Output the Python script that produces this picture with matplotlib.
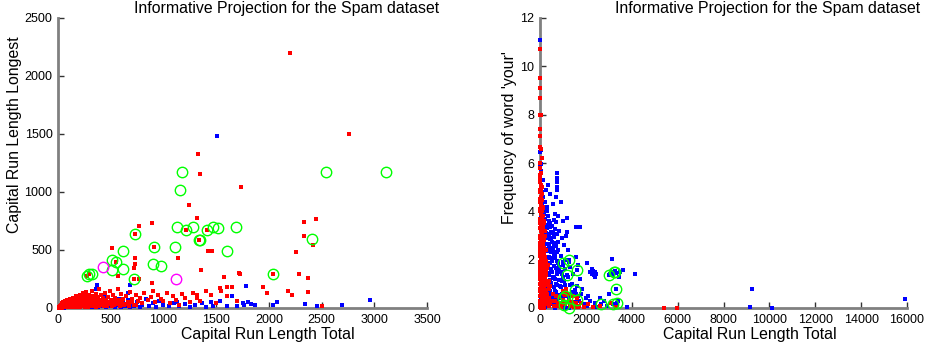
import matplotlib
matplotlib.use("Agg")
import matplotlib.pyplot as plt

plt.rcParams["font.family"] = ["Liberation Sans", "DejaVu Sans"]

TITLE = "Informative Projection for the Spam dataset"

# ---------------- left panel: run length total vs run length longest ----------------
left_red_x = [
    10, 15, 20, 25, 30, 35, 40, 45, 50, 55, 60, 65, 70, 75, 80, 85, 90, 95, 100, 105,
    110, 115, 120, 125, 130, 135, 140, 145, 150, 155, 160, 165, 170, 175, 180, 185, 190, 195, 200, 205,
    210, 215, 220, 225, 230, 235, 240, 245, 250, 255, 260, 265, 270, 275, 280, 285, 290, 295, 300, 305,
    310, 320, 325, 330, 335, 340, 350, 355, 360, 365, 370, 380, 385, 390, 400, 405, 410, 420, 430, 440,
    445, 455, 460, 470, 480, 490, 500, 510, 520, 530, 540, 550, 565, 575, 590, 600, 615, 630, 645, 660,
    680, 700, 720, 740, 760, 780, 800, 820, 850, 880, 900, 920, 950, 980, 1000, 1030, 1060, 1090, 1120, 1150,
    1180, 1200, 1250, 1280, 1320, 1350, 1400, 1450, 1500, 1550, 1600, 1650, 1700,
    5, 12, 18, 22, 28, 33, 38, 42, 48, 52, 58, 62, 68, 72, 78, 82, 88, 92, 98, 102,
    108, 112, 118, 122, 128, 132, 138, 142, 148, 152, 158, 162, 168, 172, 178, 182, 188, 192, 198, 202,
    208, 212, 218, 222, 228, 232, 238, 242, 248, 252, 258, 262, 268, 272, 278, 282, 288, 292, 298, 302,
    308, 312, 318, 322, 328, 332, 338, 342, 348, 352, 358, 362, 368, 375, 385, 395, 405, 415, 425, 435,
    450, 465, 475, 495, 515, 535, 555, 585, 610, 640, 670, 700, 740,
    2205, 2759, 1331, 1348, 1732, 1241, 1314, 893, 766, 2331, 2448, 2334, 2423, 513, 1425, 1457, 1140, 2255,
    735, 1355, 2283, 1720, 2369, 2372, 1571, 570, 887, 728, 725, 770, 2185, 2223, 1948, 1986, 1314, 1600,
    1540, 2502, 1727,
    1210, 1409, 1336, 731, 915, 551, 276, 295, 719, 2043,
]
left_red_y = [
    5, 20, 10, 30, 15, 40, 8, 25, 50, 12, 35, 20, 60, 5, 45, 28, 70, 15, 40, 55,
    10, 80, 30, 65, 20, 45, 90, 8, 55, 35, 75, 15, 100, 50, 25, 85, 60, 10, 40, 110,
    70, 30, 55, 90, 15, 130, 45, 75, 20, 100, 60, 35, 140, 80, 50, 10, 115, 65, 30, 90,
    45, 150, 70, 20, 105, 55, 35, 85, 125, 10, 60, 95, 40, 160, 70, 25, 110, 50, 85, 15,
    130, 60, 30, 95, 45, 145, 70, 20, 110, 55, 85, 35, 165, 65, 40, 120, 80, 25, 100, 55,
    140, 75, 30, 110, 60, 90, 40, 130, 70, 95, 150, 50, 110, 80, 60, 130, 40, 100, 70, 30,
    120, 85, 50, 130, 90, 60, 150, 110, 40, 150, 100, 180, 60,
    2, 8, 3, 15, 5, 22, 10, 3, 18, 30, 6, 24, 12, 40, 18, 8, 32, 50, 25, 12,
    35, 20, 48, 6, 38, 58, 22, 12, 40, 68, 18, 50, 30, 10, 62, 40, 20, 75, 48, 28,
    8, 52, 85, 38, 18, 62, 30, 95, 50, 12, 70, 40, 22, 60, 35, 88, 25, 50, 70, 15,
    40, 60, 25, 45, 80, 40, 15, 70, 50, 25, 45, 65, 30, 50, 20, 45, 60, 30, 40, 65,
    45, 20, 55, 35, 45, 25, 50, 20, 45, 35, 20, 50, 25,
    2200, 1500, 1325, 1155, 1040, 890, 775, 737, 708, 740, 766, 618, 543, 514, 494, 494, 428, 485,
    428, 324, 289, 298, 260, 139, 266, 275, 217, 381, 347, 246, 150, 116, 179, 133, 116, 179,
    175, 20, 293,
    671, 671, 584, 636, 526, 399, 275, 289, 254, 289,
]

left_blue_x = [
    1506, 1783, 1653, 1758, 1806, 1869, 2343, 2454, 2692, 2955, 2074, 2043, 1472, 1362, 1536, 374, 364, 681, 665,
    20, 40, 60, 80, 100, 120, 140, 160, 180, 200, 220, 240, 260, 280, 300, 320, 340, 360, 380, 400,
    420, 440, 460, 480, 500, 520, 540, 560, 580, 600, 620, 640, 660, 680, 700, 720, 750, 780, 800, 830,
    860, 900, 930, 960, 1000, 1050, 1100, 1130, 1150, 1200, 1250, 1300, 1400, 1450, 1600, 1700, 1760, 1830,
]
left_blue_y = [
    1485, 188, 101, 43, 49, 29, 38, 20, 29, 69, 49, 29, 20, 43, 64, 202, 165, 202, 130,
    5, 12, 3, 20, 8, 30, 5, 15, 40, 10, 25, 60, 5, 20, 45, 12, 80, 30, 8, 55,
    20, 100, 10, 35, 15, 60, 5, 30, 80, 12, 45, 20, 70, 8, 35, 15, 50, 10, 30, 80,
    20, 45, 10, 60, 25, 15, 40, 50, 20, 35, 10, 30, 10, 55, 15, 20, 25, 35,
]

left_green_x = [1175, 2543, 3113, 1156, 1124, 1210, 1283, 1409, 1472, 1514, 1685, 1336, 1345, 2413, 731,
                915, 1108, 1603, 621, 516, 551, 510, 618, 903, 975, 276, 295, 326, 719, 2043]
left_green_y = [1170, 1170, 1170, 1017, 694, 671, 694, 671, 699, 688, 694, 584, 590, 598, 636,
                526, 526, 491, 488, 416, 399, 329, 338, 376, 361, 275, 289, 295, 254, 289]

left_magenta_x = [428, 1115]
left_magenta_y = [350, 249]

# ---------------- right panel: run length total vs frequency of 'your' ----------------
right_red_x = [
    0, 0, 0, 0, 0, 30, 0, 0, 0, 40, 70, 0, 20,
    5, 10, 30, 15, 50, 8, 25, 60, 12, 40, 80, 5, 20, 55, 100, 10, 35, 70, 120, 3, 25, 50,
    90, 15, 140, 35, 65, 5, 110, 20, 45, 160, 80, 10, 30, 130, 55, 200, 5, 95, 25, 170,
    45, 70, 15, 120, 250, 35, 60, 5, 150, 85, 20, 210, 40, 110, 10, 300, 65, 30, 180, 90,
    5, 140, 50, 260, 20, 100, 350, 70, 10, 200, 40, 130, 400, 5, 80, 25, 160,
    500, 600, 700, 800, 900, 1000, 1100, 1200, 1300, 1400, 1500, 1600, 1700, 1800, 1900, 2100,
    2300, 2600, 3100, 3300, 5425, 5964,
    0, 0, 0, 0, 0, 0, 0, 0, 0, 0, 0, 0, 0, 0, 45, 75, 30, 95, 65, 150,
    85, 110, 180, 75, 230, 100, 280, 190, 240, 320, 400, 450, 380, 330, 270, 220, 420, 550, 650, 750,
    850, 950, 1050, 1150, 1250, 1350, 1450, 1550, 1650, 1100, 1000,
    60, 120, 180, 240, 300, 90, 150, 210, 270, 330, 60, 120, 180, 240, 30, 90, 150, 210, 45, 105,
    165, 225, 285, 345, 75, 135, 195, 255, 315, 375, 40, 100, 160, 220, 280, 60, 120, 180, 20, 80,
    140, 200, 260, 50, 110, 170, 230, 70, 130, 190, 90, 150, 30, 100, 60, 40, 80, 120, 20, 50,
]
right_red_y = [
    10.7, 9.5, 9.1, 8.7, 8.0, 8.0, 7.4, 7.1, 6.67, 6.6, 6.2, 6.0, 5.8,
    5.5, 5.2, 5.0, 4.8, 4.6, 4.5, 4.3, 4.2, 4.0, 3.9, 3.8, 3.7, 3.6, 3.5, 3.4, 3.3, 3.2, 3.1, 3.0, 2.95, 2.9, 2.8,
    2.75, 2.7, 2.6, 2.55, 2.5, 2.45, 2.4, 2.35, 2.3, 2.25, 2.2, 2.15, 2.1, 2.05, 2.0, 1.95, 1.9, 1.85, 1.8, 1.75,
    1.7, 1.65, 1.6, 1.55, 1.5, 1.45, 1.4, 1.35, 1.3, 1.25, 1.2, 1.15, 1.1, 1.05, 1.0, 0.95, 0.9, 0.85, 0.8, 0.75,
    0.7, 0.65, 0.6, 0.55, 0.5, 0.45, 0.4, 0.35, 0.3, 0.25, 0.2, 0.15, 0.1, 0.05, 0.02, 0.0, 0.0,
    0.3, 0.1, 0.5, 0.2, 0.05, 0.35, 0.15, 0.6, 0.1, 0.25, 0.05, 0.4, 0.1, 0.2, 0.05, 0.15,
    0.05, 0.1, 0.2, 0.05, 0.0, 0.0,
    5.3, 4.9, 4.4, 4.1, 3.5, 3.0, 2.6, 2.2, 1.8, 1.5, 1.2, 0.8, 0.5, 0.2, 5.1, 4.7, 4.1, 4.0, 3.6, 3.55,
    3.3, 2.9, 2.8, 2.2, 2.1, 1.6, 1.35, 1.0, 0.7, 0.6, 0.4, 0.9, 1.1, 1.8, 2.4, 3.0, 0.2, 0.6, 0.3, 0.1,
    0.45, 0.2, 0.6, 0.8, 0.3, 0.15, 0.5, 0.2, 0.05, 0.55, 0.7,
    0.1, 0.2, 0.3, 0.15, 0.25, 0.5, 0.65, 0.45, 0.75, 0.35, 0.9, 1.0, 0.85, 1.1, 1.3, 1.25, 1.4, 1.2, 1.6, 1.55,
    1.7, 1.5, 1.65, 1.05, 1.9, 2.0, 1.85, 1.95, 0.55, 0.8, 2.25, 2.3, 2.15, 2.4, 0.3, 2.6, 2.7, 2.5, 2.9, 3.0,
    2.85, 3.2, 0.95, 3.4, 3.35, 3.5, 1.45, 3.7, 3.8, 3.6, 4.0, 4.2, 4.3, 4.45, 4.6, 4.9, 5.0, 4.15, 5.4, 5.6,
]

right_blue_x = [
    0, 0, 60, 50, 20, 60, 727,
    750, 760, 745, 750, 755, 1164, 1164, 1571, 1745, 2036, 3127, 4145, 3607, 9236, 15927, 9163, 10109, 3782,
    2200, 2250, 2300, 2350, 2400, 2450, 2280, 2380, 2320,
    3050, 3150, 3200, 3250, 3300, 3229, 3273, 3316, 3480, 3450, 3400, 3345, 3200, 3000, 2900, 2662, 2500,
    50, 100, 150, 200, 80, 250, 120, 300, 180, 60, 350, 220, 400, 140, 280, 90, 450, 320, 180, 500,
    240, 380, 110, 600, 300, 450, 160, 520, 700, 260, 400, 80, 580, 340, 800, 200, 480, 650, 130, 900,
    380, 550, 260, 720, 1000, 420, 180, 620, 850, 320, 1100, 500, 750, 240, 950, 400, 1200, 600, 150, 820,
    1050, 350, 700, 1300, 500, 900, 250, 1150, 650, 1400, 400, 800, 1000, 550, 1250, 300, 750, 1500, 450, 950,
    1350, 200, 650, 1100, 1700, 1800, 1900, 2000, 1600, 1750, 1450, 1300, 1650, 1550, 1200, 1050, 950, 1150, 850, 1000,
    650, 550, 700, 900, 450, 350, 250, 150, 1100, 1250, 1400, 1550, 1650, 1850, 2100, 2200, 2050, 2400, 2600, 2800,
    100, 50, 60, 40, 70, 30,
    1018, 1265, 1164, 1600, 1527, 1600, 1091, 1062, 1265, 3025,
    400, 480, 560, 640, 720, 440, 520, 600, 680, 760, 420, 500, 580, 660, 740, 460, 540, 620, 700, 780,
    430, 510, 590, 670, 750, 470, 550, 630, 710, 790, 410, 490, 570, 650, 730, 450, 530, 610, 690, 770,
    860, 940, 880, 960, 1020, 840, 920, 1000, 1080, 1140, 300, 350, 380, 330, 360, 310, 390, 340, 370, 320,
]
right_blue_y = [
    11.1, 6.45, 6.54, 5.96, 5.9, 5.68, 5.57,
    5.4, 5.2, 5.0, 4.9, 5.3, 3.72, 3.14, 3.34, 3.34, 1.86, 2.03, 1.42, 1.59, 0.79, 0.37, 0.03, 0.0, 0.05,
    1.5, 1.4, 1.45, 1.35, 1.5, 1.4, 1.6, 1.3, 1.55,
    1.4, 1.35, 1.5, 1.55, 1.45, 1.48, 1.49, 0.8, 1.5, 1.3, 0.3, 0.19, 0.17, 0.6, 0.1, 0.17, 0.05,
    5.0, 4.8, 4.6, 4.4, 4.3, 4.2, 4.1, 4.0, 3.9, 3.85, 3.8, 3.7, 3.6, 3.5, 3.45, 3.4, 3.35, 3.3, 3.2, 3.15,
    3.1, 3.05, 3.0, 2.95, 2.9, 2.85, 2.8, 2.75, 2.7, 2.65, 2.6, 2.55, 2.5, 2.45, 2.4, 2.35, 2.3, 2.25, 2.2, 2.15,
    2.1, 2.05, 2.0, 1.95, 1.9, 1.85, 1.8, 1.75, 1.7, 1.65, 1.6, 1.55, 1.5, 1.45, 1.4, 1.35, 1.3, 1.25, 1.2, 1.15,
    1.1, 1.05, 1.0, 0.95, 0.9, 0.85, 0.8, 0.75, 0.7, 0.65, 0.6, 0.55, 0.5, 0.45, 0.4, 0.35, 0.3, 0.25, 0.2, 0.15,
    0.1, 0.05, 0.02, 0.0, 0.3, 0.6, 0.15, 0.4, 0.9, 1.2, 1.4, 1.7, 1.8, 2.1, 2.4, 2.6, 2.9, 3.0, 3.2, 3.6,
    3.9, 4.3, 4.6, 4.4, 4.7, 5.1, 4.9, 5.3, 2.0, 1.9, 1.0, 0.6, 0.5, 0.8, 0.5, 0.3, 0.1, 0.2, 0.4, 0.3,
    2.0, 1.5, 2.7, 3.3, 0.9, 0.4,
    1.86, 2.0, 1.35, 1.56, 0.73, 0.32, 0.51, 0.11, 0.0, 1.35,
    0.2, 0.35, 0.15, 0.45, 0.25, 0.7, 0.55, 0.85, 0.65, 0.95, 1.15, 1.05, 1.3, 1.2, 1.4, 1.6, 1.5, 1.75, 1.65, 1.85,
    2.05, 1.95, 2.2, 2.1, 2.3, 2.5, 2.4, 2.6, 2.55, 2.75, 3.0, 2.9, 3.1, 3.25, 3.05, 3.5, 3.4, 3.65, 3.55, 3.8,
    0.4, 0.6, 0.9, 1.1, 1.3, 1.6, 1.5, 1.8, 0.95, 0.7, 0.5, 0.8, 1.1, 1.45, 1.75, 2.05, 2.35, 2.65, 2.95, 4.2,
]

right_green_x = [1018, 1265, 1164, 1600, 1527, 1600, 1091, 1062, 1265, 2662, 3025, 3229, 3273, 3316,
                 3200, 3345, 1017]
right_green_y = [1.86, 2.0, 1.35, 1.56, 0.73, 0.32, 0.51, 0.11, 0.0, 0.17, 1.35, 1.48, 1.49, 0.8,
                 0.17, 0.19, 0.41]

left_xticks = [0, 500, 1000, 1500, 2000, 2500, 3000, 3500]
left_yticks = [0, 500, 1000, 1500, 2000, 2500]
right_xticks = [0, 2000, 4000, 6000, 8000, 10000, 12000, 14000, 16000]
right_yticks = [0, 2, 4, 6, 8, 10, 12]

RED, BLUE, GREEN, MAGENTA = "#ff0000", "#0000ff", "#00ff00", "#ff00ff"


def style_axes(ax, xlim, ylim, xticks, yticks, xlabel, ylabel, xlab_pos, ylab_pos):
    ax.set_xlim(*xlim)
    ax.set_ylim(*ylim)
    ax.set_xticks(xticks)
    ax.set_yticks(yticks)
    ax.set_xticklabels([str(t) for t in xticks])
    ax.set_yticklabels([str(t) for t in yticks])
    for s in ["top", "right"]:
        ax.spines[s].set_visible(False)
    for s in ["left", "bottom"]:
        ax.spines[s].set_color("#808080")
        ax.spines[s].set_linewidth(2)
    ax.tick_params(direction="in", length=4, width=1, color="#333333", labelsize=9, pad=4)
    ax.set_xlabel(xlabel, fontsize=11.4)
    ax.set_ylabel(ylabel, fontsize=11.4)
    ax.xaxis.set_label_coords(*xlab_pos)
    ax.yaxis.set_label_coords(*ylab_pos)


fig = plt.figure(figsize=(9.25, 3.5), dpi=100)
ax1 = fig.add_axes([58 / 925, 1 - 308 / 350, 369 / 925, 290 / 350])
ax2 = fig.add_axes([540 / 925, 1 - 308 / 350, 367 / 925, 290 / 350])

dot = dict(linestyle="none", marker="s", markersize=2.2, markeredgewidth=0, zorder=3, clip_on=False)
ring = dict(linestyle="none", marker="o", markersize=7.5, markerfacecolor="none",
            markeredgewidth=1, zorder=4, clip_on=False)

ax1.plot(left_blue_x, left_blue_y, color=BLUE, **dot)
ax1.plot(left_red_x, left_red_y, color=RED, **dot)
ax1.plot(left_green_x, left_green_y, markeredgecolor=GREEN, **ring)
ax1.plot(left_magenta_x, left_magenta_y, markeredgecolor=MAGENTA, **ring)
style_axes(ax1, (0, 3500), (0, 2500), left_xticks, left_yticks,
           "Capital Run Length Total", "Capital Run Length Longest",
           (0.569, -0.066), (-0.097, 0.597))

ax2.plot(right_blue_x, right_blue_y, color=BLUE, **dot)
ax2.plot(right_red_x, right_red_y, color=RED, **dot)
ax2.plot(right_green_x, right_green_y, markeredgecolor=GREEN, **ring)
style_axes(ax2, (0, 16000), (0, 12), right_xticks, right_yticks,
           "Capital Run Length Total", "Frequency of word 'your'",
           (0.572, -0.066), (-0.063, 0.586))

fig.text(287 / 925, 1 - 1 / 350, TITLE, ha="center", va="top", fontsize=11.4)
fig.text(768 / 925, 1 - 1 / 350, TITLE, ha="center", va="top", fontsize=11.4)

fig.savefig("out.png", dpi=100)
